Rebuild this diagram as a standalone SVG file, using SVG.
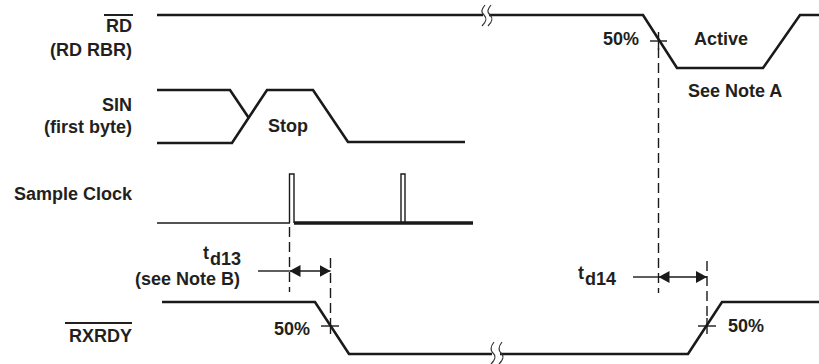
<svg xmlns="http://www.w3.org/2000/svg" width="819" height="364" viewBox="0 0 819 364">
<defs>
<style>
.t{font-family:"Liberation Sans",Arial,sans-serif;font-weight:bold;font-size:18px;fill:#231f20}
.r{text-anchor:end}
.sig{fill:none;stroke:#1a1a1a;stroke-width:2.6;stroke-linejoin:miter}
.thin{fill:none;stroke:#1a1a1a;stroke-width:1.4}
.dash{fill:none;stroke:#1a1a1a;stroke-width:1.4;stroke-dasharray:10,5}
.ln{fill:none;stroke:#1a1a1a;stroke-width:1.4}
.brk{fill:none;stroke:#333;stroke-width:1.2}
</style>
<marker id="ah" viewBox="0 0 11 12" refX="11" refY="6" markerWidth="11" markerHeight="12" markerUnits="userSpaceOnUse" orient="auto-start-reverse">
<path d="M0,0 L11,6 L0,12 Z" fill="#1a1a1a"/>
</marker>
</defs>
<rect width="819" height="364" fill="#fff"/>

<g id="rd">
<text class="t r" x="132" y="31.5">RD</text>
<line x1="104" y1="15" x2="133" y2="15" stroke="#231f20" stroke-width="2"/>
<text class="t r" x="132" y="56">(RD RBR)</text>
<path class="sig" d="M157,15 H483 M489,15 H643 L677,68 H763 L800,15 H819"/>
<path class="brk" d="M485,5 C481,10 481,12 484,15 C487,18 487,21 482,26 M491,5 C487,10 487,12 490,15 C493,18 493,21 488,26"/>
<text class="t r" x="639" y="45">50%</text>
<text class="t" x="694" y="45">Active</text>
<text class="t" x="688" y="97">See Note A</text>
</g>

<g id="sin">
<text class="t r" x="132" y="111">SIN</text>
<text class="t r" x="132" y="133">(first byte)</text>
<path class="sig" d="M157,90 H230 L248.5,117.5"/>
<path class="sig" d="M157,143 H232 L267,90 H313 L348,142 H465"/>
<text class="t" x="268" y="132">Stop</text>
</g>

<g id="sample-clock">
<text class="t r" x="132" y="200">Sample Clock</text>
<line class="thin" x1="157" y1="223" x2="290" y2="223" stroke-width="2"/>
<path class="thin" d="M289.5,223 V174 H294 V223"/>
<path class="thin" d="M401,222 V174 H405 V222"/>
<line x1="294" y1="223" x2="473" y2="223" stroke="#1a1a1a" stroke-width="3.6"/>
</g>

<g id="rxrdy">
<text class="t r" x="132" y="342">RXRDY</text>
<line x1="65" y1="323" x2="132" y2="323" stroke="#231f20" stroke-width="2"/>
<path class="sig" d="M162,302 H315 L349,354 H492 M500,354 H688 L722,302 H819"/>
<path class="brk" d="M494,342 C490,347 490,350 493,353 C496,356 496,359 491,364 M502,342 C498,347 498,350 501,353 C504,356 504,359 499,364"/>
<text class="t r" x="310" y="335">50%</text>
<text class="t" x="728" y="332">50%</text>
</g>

<g id="td13">
<text class="t" x="203" y="259" font-size="17">t</text>
<text class="t" x="210" y="265" font-size="17">d13</text>
<text class="t r" x="240" y="285">(see Note B)</text>
</g>

<g id="td14">
<text class="t" x="578" y="279" font-size="17">t</text>
<text class="t" x="585" y="285" font-size="17">d14</text>
</g>

<g id="connectors">
<line class="dash" x1="658.5" y1="48" x2="658.5" y2="293"/>
<line class="ln" x1="658.5" y1="32" x2="658.5" y2="50"/>
<line class="ln" x1="650" y1="41" x2="667" y2="41"/>
<line class="dash" x1="289.5" y1="227" x2="289.5" y2="292"/>
<line class="dash" x1="330.5" y1="258" x2="330.5" y2="318"/>
<line class="ln" x1="330.5" y1="318" x2="330.5" y2="334"/>
<line class="ln" x1="321" y1="326" x2="339" y2="326"/>
<line class="dash" x1="707" y1="261" x2="707" y2="318"/>
<line class="ln" x1="707" y1="318" x2="707" y2="334"/>
<line class="ln" x1="698" y1="326" x2="716" y2="326"/>
<line class="ln" x1="258" y1="271" x2="289.5" y2="271"/>
<line class="ln" x1="289.5" y1="271" x2="330.5" y2="271" marker-start="url(#ah)" marker-end="url(#ah)"/>
<line class="ln" x1="633" y1="277" x2="658.5" y2="277"/>
<line class="ln" x1="658.5" y1="277" x2="707" y2="277" marker-start="url(#ah)" marker-end="url(#ah)"/>
</g>
</svg>
